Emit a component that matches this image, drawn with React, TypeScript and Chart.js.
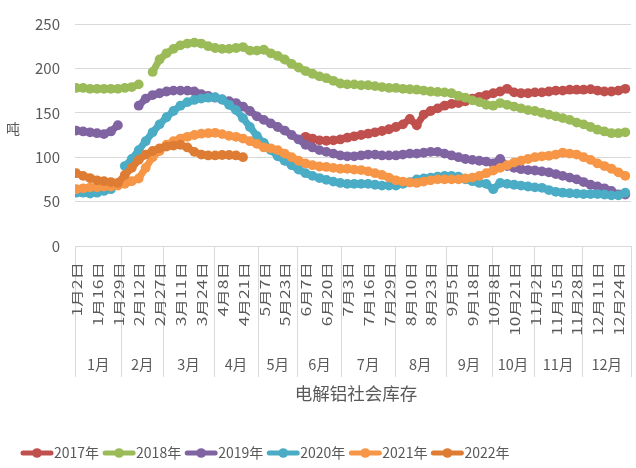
import React, { useEffect, useRef } from 'react';
import { Chart, registerables } from 'chart.js';

Chart.register(...registerables);

const FONT = '"Noto Sans CJK SC", "Noto Sans", sans-serif';
const TEXT_COLOR = '#595959';
const GRID_COLOR = '#D9D9D9';

const SERIES_NAMES = ['2017年', '2018年', '2019年', '2020年', '2021年', '2022年'];
const COLORS = ['#C0504D', '#9BBB59', '#8064A2', '#4BACC6', '#F79646', '#DE7C34'];

const MONTHS = ['1月', '2月', '3月', '4月', '5月', '6月', '7月', '8月', '9月', '10月', '11月', '12月'];
// category slot where each month starts (240 trading-day slots in total)
const MONTH_BOUNDS = [0, 20, 38, 60, 79, 96, 115, 138, 160, 180, 198, 219, 240];
const DATE_LABELS = [
  '1月2日', '1月16日', '1月29日', '2月12日', '2月27日', '3月11日', '3月24日', '4月8日', '4月21日',
  '5月7日', '5月23日', '6月7日', '6月20日', '7月3日', '7月16日', '7月29日', '8月10日', '8月23日',
  '9月5日', '9月18日', '10月8日', '10月21日', '11月2日', '11月15日', '11月28日', '12月11日', '12月24日',
];
const TOTAL_SLOTS = 240;
const LABEL_STEP = 9;
const SAMPLE_STEP = 3;

const Y_TICKS = [0, 50, 100, 150, 200, 250];

const Y2017 = [
  null, null, null, null, null, null, null, null, null, null,
  null, null, null, null, null, null, null, null, null, null,
  null, null, null, null, null, null, null, null, null, null,
  null, null, null, 123, 121, 119, 118.5, 119, 120, 122,
  123.5, 125, 126.5, 128, 129.5, 131.5, 134, 137, 143, 136,
  148, 152, 155, 158, 160, 161, 163, 166, 168, 170,
  172, 174, 177, 173, 172, 172, 173, 173, 174, 175,
  175, 176, 176, 176, 176.5, 175, 174, 174, 175, 177,
];
const Y2018 = [
  178, 178, 177, 177, 177, 177, 177, 178, 179, 182,
  null, 196, 210, 217, 222, 226, 228, 229, 228, 225,
  223, 222, 222, 223, 224, 220, 220, 221, 217, 214,
  210, 205, 201, 197, 194, 191, 189, 186, 183, 182,
  182, 181, 181, 180, 179, 178, 178, 177, 176.5, 176,
  175, 174, 173.5, 173, 172, 169, 167, 164, 162, 159,
  158, 161, 159, 157, 155, 153, 152, 150, 148, 146,
  144, 142, 139, 137, 134, 131, 129, 127, 127, 128,
];
const Y2019 = [
  130, 129, 128, 127, 126, 129, 136, null, null, 158,
  166, 170, 172, 174, 175, 175, 175, 174, 171, 169,
  167, 165, 163, 161, 157, 152, 146, 142, 138, 134,
  130, 125, 120, 114, 111, 108, 106, 104, 102, 101,
  101, 102, 103, 103, 102, 102, 102, 103, 104, 104,
  105, 106, 106, 104, 102, 100, 98, 97, 96, 95,
  93, 98, 90, 88, 86.5, 85.5, 85, 84, 83, 81,
  79, 77, 75, 72, 69, 67, 65, 62, 58, 58,
];
const Y2020 = [
  60, 60, 59, 60, 62, 64, null, 90, 98, 108,
  118, 128, 137, 145, 152, 158, 162, 164.5, 166, 167,
  167.5, 165, 159, 153, 144, 134, 124, 116, 108, 101,
  96, 91, 86, 82, 79, 76.5, 74.5, 72.5, 71, 70,
  70, 70, 70, 69, 68, 68, 68, 70, 72, 75,
  76, 77, 78, 79, 79, 78, 75, 73, 71, 70,
  64, 71, 70, 69, 68, 67, 66, 65.5, 63, 61,
  60, 59.5, 59, 58.5, 58.5, 58.5, 58, 57, 57, 60,
];
const Y2021 = [
  64, 65, 66, 66, 67, 67, 68, 70, 73, 76,
  88, 100, 107, 114, 118, 121, 123, 125, 126.5, 127,
  127.5, 126, 124, 123, 121, 118, 115, 111, 110, 108,
  104, 100, 96, 93, 91, 89.5, 89, 88, 87, 87,
  86, 85.5, 84, 82, 80, 77, 74, 72.5, 71.5, 71,
  72.5, 74, 75, 75, 75, 75, 76, 77, 79, 82,
  85, 88, 91, 94, 96, 98, 100, 101, 101.6, 103,
  105, 104, 103, 100, 97, 93, 90, 87, 83, 79,
];
const Y2022 = [
  82, 79, 76.5, 74, 73, 72, 71, 80, 88, 97,
  103, 107, 110, 112, 113, 114, 111, 106, 103, 102,
  102, 102.5, 102.5, 102, 100,
];

const SERIES_VALUES = [Y2017, Y2018, Y2019, Y2020, Y2021, Y2022];

const decorPlugin = {
  id: 'decor',
  afterDraw(chart: any) {
    const { ctx, chartArea, scales } = chart;
    const xs = scales.x;
    ctx.save();

    // month separators of the two-level category axis
    ctx.strokeStyle = GRID_COLOR;
    ctx.lineWidth = 1;
    MONTH_BOUNDS.forEach((b) => {
      const px = Math.round(xs.getPixelForValue(b)) + 0.5;
      ctx.beginPath();
      ctx.moveTo(px, chartArea.bottom);
      ctx.lineTo(px, 377);
      ctx.stroke();
    });

    // rotated date labels
    ctx.fillStyle = TEXT_COLOR;
    ctx.font = `12.5px ${FONT}`;
    ctx.textAlign = 'right';
    ctx.textBaseline = 'middle';
    DATE_LABELS.forEach((lab, i) => {
      const px = xs.getPixelForValue(i * LABEL_STEP + 0.5);
      ctx.save();
      ctx.translate(px + 1, 262);
      ctx.rotate(-Math.PI / 2);
      ctx.scale(1.4, 1);
      ctx.fillText(lab, 0, 0);
      ctx.restore();
    });

    // month labels
    ctx.font = `14.5px ${FONT}`;
    ctx.textAlign = 'center';
    MONTHS.forEach((m, i) => {
      const c = (xs.getPixelForValue(MONTH_BOUNDS[i]) + xs.getPixelForValue(MONTH_BOUNDS[i + 1])) / 2;
      ctx.fillText(m, c, 364);
    });

    // axis titles
    ctx.font = `17.5px ${FONT}`;
    ctx.fillText('电解铝社会库存', (chartArea.left + chartArea.right) / 2 + 3, 393);
    ctx.font = `14px ${FONT}`;
    ctx.fillText('吨', 13, 129);

    // legend
    ctx.font = `14px ${FONT}`;
    ctx.textAlign = 'left';
    let lx = 21;
    const ly = 453;
    SERIES_NAMES.forEach((name, i) => {
      ctx.strokeStyle = COLORS[i];
      ctx.lineWidth = 5;
      ctx.lineCap = 'round';
      ctx.beginPath();
      ctx.moveTo(lx + 2, ly);
      ctx.lineTo(lx + 30, ly);
      ctx.stroke();
      ctx.fillStyle = COLORS[i];
      ctx.beginPath();
      ctx.arc(lx + 16, ly, 4.8, 0, Math.PI * 2);
      ctx.fill();
      ctx.fillStyle = TEXT_COLOR;
      ctx.fillText(name, lx + 33, ly);
      lx += 33 + ctx.measureText(name).width + 4;
    });

    ctx.restore();
  },
};

export default function App() {
  const canvasRef = useRef<HTMLCanvasElement | null>(null);

  useEffect(() => {
    if (!canvasRef.current) return;
    const datasets = SERIES_VALUES.map((vals, i) => ({
      label: SERIES_NAMES[i],
      data: vals.map((y, k) => ({ x: k * SAMPLE_STEP + 0.5, y })),
      borderColor: COLORS[i],
      backgroundColor: COLORS[i],
      pointBackgroundColor: COLORS[i],
      borderWidth: 7,
      pointRadius: 4.9,
      pointHoverRadius: 4.9,
      pointBorderWidth: 0,
      tension: 0,
      spanGaps: false,
      order: SERIES_NAMES.length - i,
    }));

    const chart = new Chart(canvasRef.current, {
      type: 'line',
      data: { datasets },
      options: {
        responsive: false,
        animation: false,
        layout: { padding: { left: 0, right: 3, top: 14, bottom: 0 } },
        plugins: {
          legend: { display: false },
          tooltip: { enabled: false },
        },
        scales: {
          x: {
            type: 'linear',
            min: 0,
            max: TOTAL_SLOTS,
            ticks: { display: false },
            grid: { display: false },
            border: { display: false },
            afterFit: (s: any) => {
              s.height = 222;
            },
          },
          y: {
            min: 0,
            max: 250,
            afterBuildTicks: (s: any) => {
              s.ticks = Y_TICKS.map((v) => ({ value: v }));
            },
            ticks: { padding: 15, color: TEXT_COLOR, font: { size: 15, family: FONT } },
            grid: { color: GRID_COLOR, drawTicks: false, lineWidth: 1 },
            border: { display: false },
            afterFit: (s: any) => {
              s.width = 75;
            },
          },
        },
      },
      plugins: [decorPlugin],
    } as any);

    return () => chart.destroy();
  }, []);

  return (
    <div style={{ position: 'absolute', left: 0, top: 0, width: 636, height: 468, background: '#fff' }}>
      <canvas ref={canvasRef} width={636} height={468} style={{ display: 'block' }} />
    </div>
  );
}
